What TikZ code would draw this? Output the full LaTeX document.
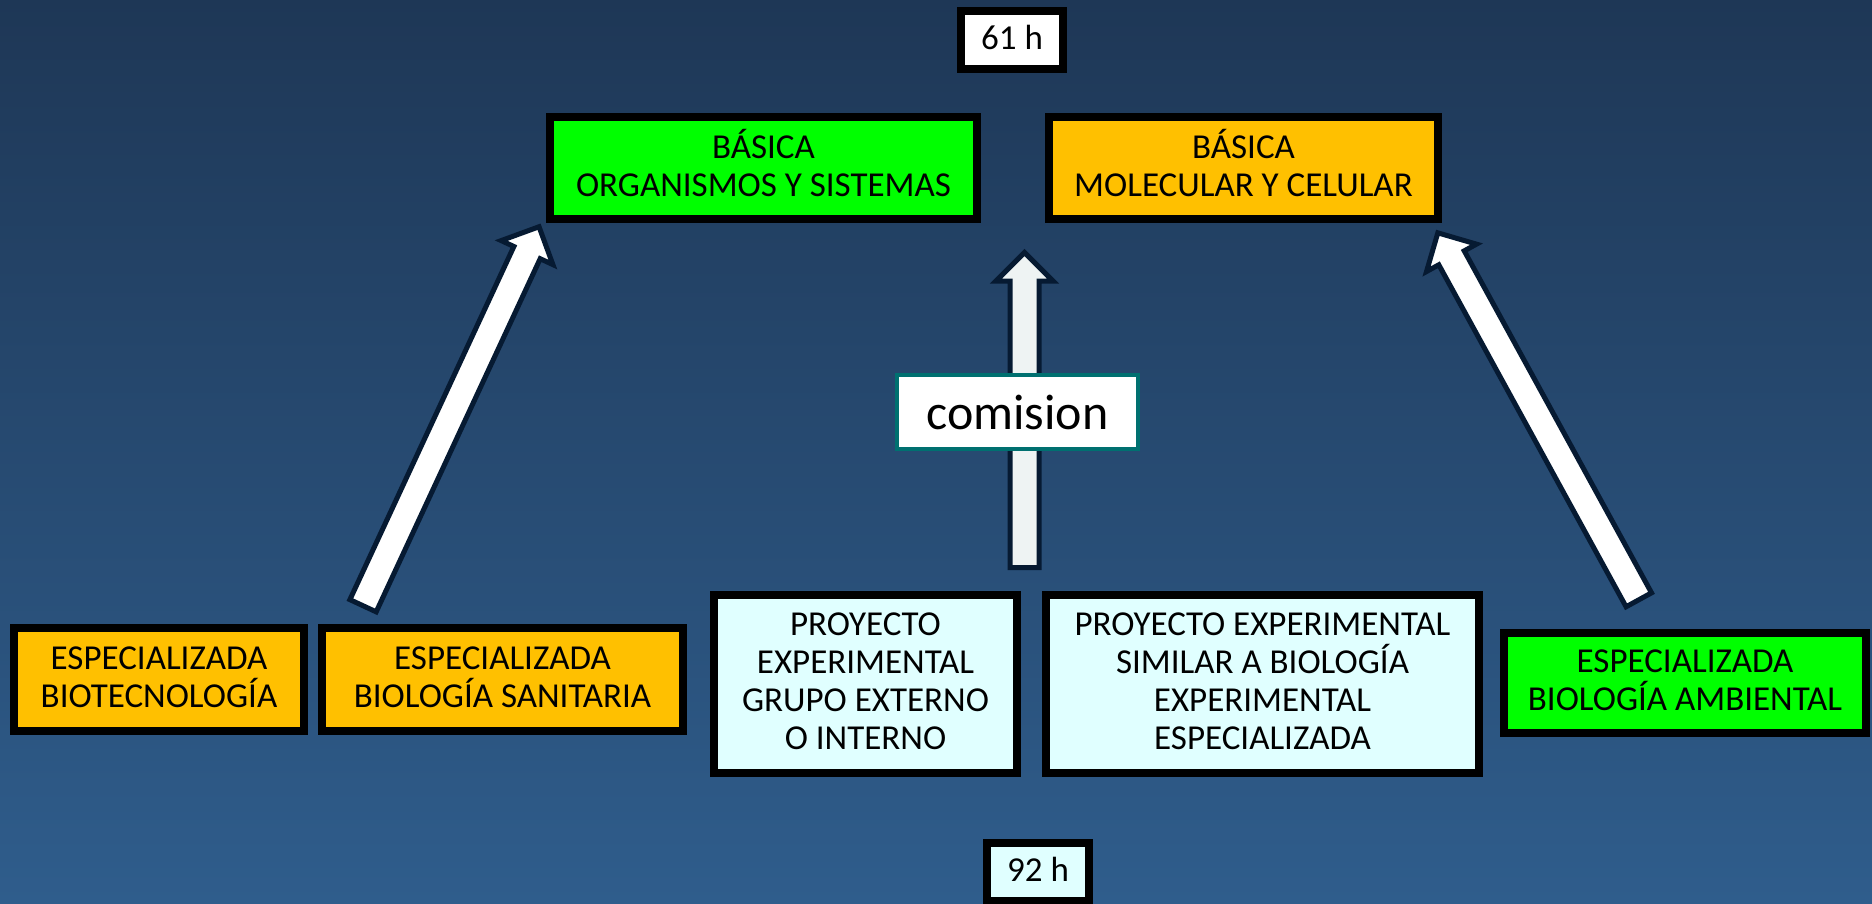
\documentclass[tikz,border=0pt]{standalone}
\usepackage{fontspec}
\setmainfont{Carlito}
\usepackage{tikz}
\usetikzlibrary{shapes.arrows,calc}
\definecolor{fondoarriba}{RGB}{30,55,86}
\definecolor{fondoabajo}{RGB}{47,93,140}
\definecolor{verde}{RGB}{0,255,0}
\definecolor{naranja}{RGB}{255,192,0}
\definecolor{celeste}{RGB}{224,255,255}
\definecolor{gris}{RGB}{238,243,243}
\definecolor{marino}{RGB}{6,26,50}
\definecolor{turquesa}{RGB}{0,112,112}

\begin{document}
\begin{tikzpicture}[x=1pt, y=-1pt,
  caja/.style={draw=black, line width=8pt, align=center, inner sep=0pt,
    execute at end node={\rule[-#1]{0pt}{0pt}}},
  caja/.default=5pt,
  horas/.style={caja, minimum width=102pt, minimum height=58pt},
  flecha/.style={single arrow, draw=marino, line width=5pt, inner xsep=0pt, inner ysep=12pt,
    single arrow head extend=14pt, single arrow head indent=0pt}]

  \fontsize{35}{38}\selectfont

  \newcommand\Flecha[3]{\path let \p1=(#1), \p2=(#2),
    \n1={atan2(\y2-\y1,\x2-\x1)}, \n2={veclen(\x2-\x1,\y2-\y1)} in
    node[flecha, fill=#3, minimum height=\n2, rotate=\n1, anchor=tail] at (\p1) {};}

  \useasboundingbox (0,0) rectangle (1872,903);
  \shade[top color=fondoarriba, bottom color=fondoabajo] (0,0) rectangle (1872,903);

  \node[horas, fill=white] (h61) at (1012,40) {61 h};
  \node[caja=11pt, fill=verde, minimum width=427pt, minimum height=102pt] (orgs) at (763.5,168) {BÁSICA\\ORGANISMOS Y SISTEMAS};
  \node[caja=11pt, fill=naranja, minimum width=389pt, minimum height=102pt] (molec) at (1243.5,168) {BÁSICA\\MOLECULAR Y CELULAR};

  \node[caja, fill=naranja, minimum width=290pt, minimum height=103pt] (biotec) at (159,679.5) {ESPECIALIZADA\\BIOTECNOLOGÍA};
  \node[caja, fill=naranja, minimum width=361pt, minimum height=103pt] (sanit) at (502.5,679.5) {ESPECIALIZADA\\BIOLOGÍA SANITARIA};
  \node[caja, fill=celeste, minimum width=303pt, minimum height=178pt] (proy1) at (865.5,684) {PROYECTO\\EXPERIMENTAL\\GRUPO EXTERNO\\O INTERNO};
  \node[caja, fill=celeste, minimum width=433pt, minimum height=178pt] (proy2) at (1262.5,684) {PROYECTO EXPERIMENTAL\\SIMILAR A BIOLOGÍA\\EXPERIMENTAL\\ESPECIALIZADA};
  \node[caja, fill=verde, minimum width=362pt, minimum height=100pt] (ambient) at (1685,683) {ESPECIALIZADA\\BIOLOGÍA AMBIENTAL};
  \node[horas, fill=celeste] (h92) at (1038,872) {92 h};

  \coordinate (colaizq) at ($(sanit.north west)+(44pt,16pt)$);
  \coordinate (puntaizq) at ($(orgs.south west)+(-8pt,-6pt)$);
  \coordinate (colacen) at ($(proy1.north east)+(3.5pt,21pt)$);
  \coordinate (puntacen) at ($(colacen |- orgs.south)+(0pt,-32pt)$);
  \coordinate (colader) at ($(ambient.north)+(-45pt,27pt)$);
  \coordinate (puntader) at ($(molec.south east)+(-3pt,-12pt)$);

  \Flecha{colaizq}{puntaizq}{white} %% sanitaria -> organismos
  \Flecha{colacen}{puntacen}{gris} %% proyecto -> basica
  \Flecha{colader}{puntader}{white} %% ambiental -> molecular

  \node[draw=turquesa, line width=4pt, fill=white, minimum width=241pt, minimum height=74pt,
    font=\fontsize{50}{55}\selectfont] (comision) at (1017.5,412) {comision};
\end{tikzpicture}
\end{document}
